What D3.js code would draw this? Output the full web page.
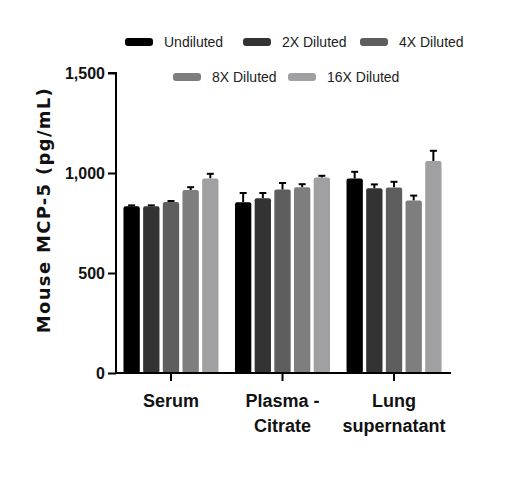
<!DOCTYPE html>
<html>
<head>
<meta charset="utf-8">
<script src="https://cdn.jsdelivr.net/npm/d3@7"></script>
<style>
  body { margin: 0; background: #fff; }
  svg text { font-family: "Liberation Sans", Arial, sans-serif; }
</style>
</head>
<body>
<div id="chart"></div>
<script>
// sample types on the x axis, one line per tspan
var categories = ['Serum', 'Plasma - Citrate', 'Lung supernatant'];
var categoryLines = [['Serum'], ['Plasma -', 'Citrate'], ['Lung', 'supernatant']];

var series = ['Undiluted', '2X Diluted', '4X Diluted', '8X Diluted', '16X Diluted'];
var colors = ['#000000', '#333333', '#5e5e5e', '#7e7e7e', '#a0a0a3'];

// mean values (pg/mL) per series, in category order
var undiluted = [834, 854, 973];
var diluted2x = [834, 874, 924];
var diluted4x = [855, 917, 928];
var diluted8x = [915, 929, 862];
var diluted16x = [973, 977, 1060];

// upper error (SEM) per series
var errUndiluted = [4, 46, 33];
var err2x = [4, 26, 19];
var err4x = [5, 33, 28];
var err8x = [14, 15, 25];
var err16x = [23, 9, 51];

var yTicks = [0, 500, 1000, 1500];

var values = [undiluted, diluted2x, diluted4x, diluted8x, diluted16x];
var errors = [errUndiluted, err2x, err4x, err8x, err16x];

var width = 505;
var height = 479;
var plot = { left: 116, right: 449, top: 73, bottom: 373 };

var svg = d3.select('#chart').append('svg')
    .attr('width', width)
    .attr('height', height);

var x0 = d3.scaleBand()
    .domain(categories)
    .range([plot.left, plot.right])
    .paddingInner(0.148)
    .paddingOuter(0.067);

var x1 = d3.scaleBand()
    .domain(series)
    .range([0, x0.bandwidth()])
    .paddingInner(0.17)
    .paddingOuter(0);

var y = d3.scaleLinear()
    .domain([0, 1500])
    .range([plot.bottom, plot.top]);

var bars = [];
categories.forEach(function(c, ci) {
    series.forEach(function(s, si) {
        bars.push({ cat: c, ser: s, color: colors[si], value: values[si][ci], err: errors[si][ci] });
    });
});

// error bars (drawn first so the bar covers the lower part)
var eb = svg.append('g').selectAll('g')
    .data(bars)
    .enter().append('g')
    .attr('transform', function(d) {
        return 'translate(' + (x0(d.cat) + x1(d.ser) + x1.bandwidth() / 2) + ',0)';
    });

eb.append('line')
    .attr('y1', function(d) { return y(d.value); })
    .attr('y2', function(d) { return y(d.value + d.err); })
    .style('stroke', '#000')
    .style('stroke-width', 2);

eb.append('line')
    .attr('x1', -3.5)
    .attr('x2', 3.5)
    .attr('y1', function(d) { return y(d.value + d.err); })
    .attr('y2', function(d) { return y(d.value + d.err); })
    .style('stroke', '#000')
    .style('stroke-width', 2);

svg.append('g').selectAll('rect')
    .data(bars)
    .enter().append('rect')
    .attr('x', function(d) { return x0(d.cat) + x1(d.ser); })
    .attr('y', function(d) { return y(d.value); })
    .attr('width', x1.bandwidth())
    .attr('height', function(d) { return y(0) - y(d.value); })
    .attr('rx', 2)
    .style('fill', function(d) { return d.color; });

// axes
var yAxis = svg.append('g')
    .attr('transform', 'translate(' + plot.left + ',0)')
    .call(d3.axisLeft(y).tickValues(yTicks).tickSize(8).tickPadding(3).tickFormat(d3.format(',')));

var xAxis = svg.append('g')
    .attr('transform', 'translate(0,' + plot.bottom + ')')
    .call(d3.axisBottom(x0).tickSize(8).tickSizeOuter(0).tickFormat(''));

[yAxis, xAxis].forEach(function(a) {
    a.select('.domain').style('stroke', '#000').style('stroke-width', 2);
    a.selectAll('.tick line').style('stroke', '#000').style('stroke-width', 2);
});
xAxis.select('.domain').attr('d', 'M' + (plot.left - 1) + ',0H' + (plot.right + 2));
yAxis.select('.domain').attr('d', 'M-8,' + plot.top + 'H0V' + (plot.bottom + 1));

yAxis.selectAll('.tick text')
    .style('font-family', '"Liberation Sans", Arial, sans-serif')
    .style('font-size', '16px')
    .style('font-weight', 'bold')
    .style('fill', '#111');

// category labels
var catLabels = svg.append('g').selectAll('text')
    .data(categories)
    .enter().append('text')
    .attr('text-anchor', 'middle')
    .attr('x', function(d) { return x0(d) + x0.bandwidth() / 2; })
    .attr('y', 407)
    .style('font-size', '18px')
    .style('font-weight', 'bold')
    .style('fill', '#111');

catLabels.each(function(d, i) {
    var t = d3.select(this);
    categoryLines[i].forEach(function(line, li) {
        t.append('tspan')
            .attr('x', x0(d) + x0.bandwidth() / 2)
            .attr('dy', li === 0 ? 0 : 25)
            .text(line);
    });
});

// y title
svg.append('text')
    .attr('transform', 'translate(50,210) rotate(-90)')
    .attr('text-anchor', 'middle')
    .style('font-family', '"DejaVu Sans", sans-serif')
    .style('font-size', '18px')
    .style('font-weight', 'bold')
    .style('letter-spacing', '1.3px')
    .style('fill', '#111')
    .text('Mouse MCP-5 (pg/mL)');

// legend, two centred rows
var legendX = [125, 243, 360, 173, 288];
var legendY = [42, 42, 42, 77, 77];

var legend = svg.append('g').selectAll('g')
    .data(series)
    .enter().append('g')
    .attr('transform', function(d, i) { return 'translate(' + legendX[i] + ',' + legendY[i] + ')'; });

legend.append('rect')
    .attr('x', 0)
    .attr('y', -4)
    .attr('width', 28)
    .attr('height', 8)
    .attr('rx', 3)
    .style('fill', function(d, i) { return colors[i]; });

legend.append('text')
    .attr('x', 39)
    .attr('y', 5)
    .style('font-size', '14px')
    .style('fill', '#222')
    .text(function(d) { return d; });
</script>
</body>
</html>
